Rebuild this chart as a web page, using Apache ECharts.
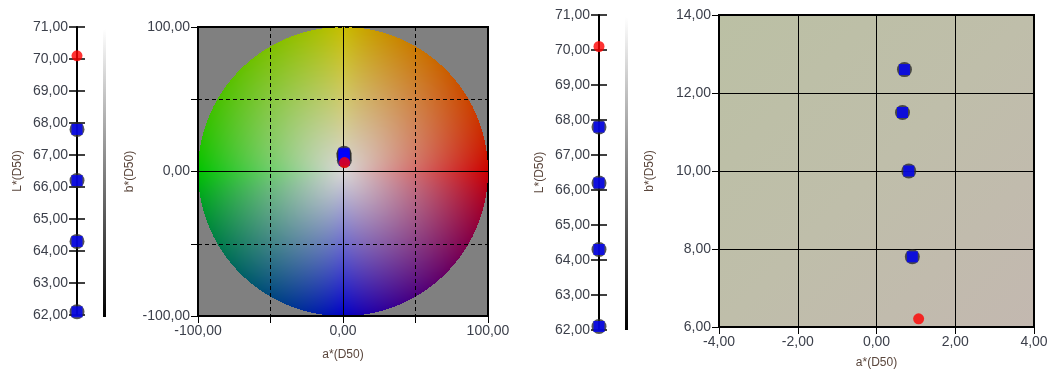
<!DOCTYPE html>
<html>
<head>
<meta charset="utf-8">
<script src="https://cdn.jsdelivr.net/npm/echarts@6/dist/echarts.min.js"></script>
<style>
  html, body { margin: 0; padding: 0; background: #fff; }
  #chart { width: 1051px; height: 374px; }
</style>
</head>
<body>
<div id="chart"></div>
<script>
// Lab values of the measured samples (blue) and the reference (red)
const lSamples = [67.8, 66.2, 64.3, 62.1];
const aSamples = [0.71, 0.66, 0.82, 0.91];
const bSamples = [12.6, 11.5, 10.0, 7.8];
const lReference = [70.1];
const aReference = [1.07];
const bReference = [6.21];

// axis ranges
const lRange = [62, 71];
const wheelRange = [-100, 100];
const zoomA = [-4, 4];
const zoomB = [6, 14];

const fmt = v => v.toFixed(2).replace('.', ',');
const labelColor = '#3b3f4a';
const nameColor = '#5a463c';
const font = 'Liberation Sans, Arial, sans-serif';

// colour wheel bitmap, drawn into the a*b* grid by a custom series
function makeWheel(w, h) {
  const cv = document.createElement('canvas');
  cv.width = w; cv.height = h;
  const ctx = cv.getContext('2d');
  const img = ctx.createImageData(w, h);
  const C = [216, 214, 214], R = [205, 0, 0], G = [0, 195, 0], Y = [200, 190, 0], B = [0, 0, 200];
  for (let y = 0; y < h; y++) {
    for (let x = 0; x < w; x++) {
      const a = (x + 0.5) / w * 2 - 1;
      const b = 1 - (y + 0.5) / h * 2;
      const r = Math.sqrt(a * a + b * b);
      const i = (y * w + x) * 4;
      if (r > 1) { img.data[i + 3] = 0; continue; }
      const s = Math.abs(a) + Math.abs(b) || 1;
      const ca = Math.abs(a) / s, cb = Math.abs(b) / s;
      const ea = a > 0 ? R : G, eb = b > 0 ? Y : B;
      for (let k = 0; k < 3; k++) {
        const e = ca * ea[k] + cb * eb[k];
        img.data[i + k] = C[k] * (1 - r) + e * r;
      }
      img.data[i + 3] = 255;
    }
  }
  ctx.putImageData(img, 0, 0);
  return cv;
}
const wheel = makeWheel(290, 289);

const chart = echarts.init(document.getElementById('chart'));

const tickLabel = { color: labelColor, fontSize: 14, fontFamily: font };
const nameStyle = { color: nameColor, fontSize: 12, fontFamily: font };
const blackLine = { show: true, onZero: false, lineStyle: { color: '#000', width: 2 } };

function lAxis(gridIndex, gap) {
  return {
    type: 'value', gridIndex, min: lRange[0], max: lRange[1], interval: 1,
    name: 'L*(D50)', nameLocation: 'middle', nameGap: gap, nameTextStyle: nameStyle,
    axisLine: blackLine,
    axisTick: { show: true, length: 8, lineStyle: { color: '#000', width: 1.5 } },
    splitLine: { show: true, lineStyle: { color: '#000', width: 1.5 } },
    axisLabel: { ...tickLabel, margin: 9, formatter: fmt, showMinLabel: true, showMaxLabel: true }
  };
}

function plotAxis(gridIndex, range, interval, name, gap, dashed, labelFn) {
  return {
    type: 'value', gridIndex, min: range[0], max: range[1], interval, z: 3,
    name, nameLocation: 'middle', nameGap: gap, nameTextStyle: nameStyle,
    axisLine: blackLine,
    axisTick: { show: true, length: 7, lineStyle: { color: '#000' } },
    splitLine: { show: true, lineStyle: { color: '#000', width: 1, type: dashed ? [4, 3] : 'solid' } },
    axisLabel: { ...tickLabel, margin: 8, showMinLabel: true, showMaxLabel: true, formatter: labelFn }
  };
}

function markerSeries(xi, yi, xs, ys, refX, refY) {
  const pts = xs.map((x, i) => [x, ys[i]]);
  const ref = refX.map((x, i) => [x, refY[i]]);
  return [
    { type: 'scatter', xAxisIndex: xi, yAxisIndex: yi, z: 5, symbol: 'circle', symbolSize: 15,
      itemStyle: { color: '#2a2a2a' }, data: pts, silent: true },
    { type: 'scatter', xAxisIndex: xi, yAxisIndex: yi, z: 6, symbol: 'rect', symbolSize: 11,
      itemStyle: { color: '#0000ff' }, data: pts, silent: true },
    { type: 'scatter', xAxisIndex: xi, yAxisIndex: yi, z: 7, symbol: 'circle', symbolSize: 11,
      itemStyle: { color: '#ff0000' }, data: ref, silent: true }
  ];
}

const barGradient = {
  type: 'linear', x: 0, y: 0, x2: 0, y2: 1,
  colorStops: [{ offset: 0, color: '#ffffff' }, { offset: 1, color: '#000000' }]
};
const hundreds = v => (v % 100 === 0 ? fmt(v) : '');

chart.setOption({
  animation: false,
  backgroundColor: '#fff',
  grid: [
    { left: 77, top: 27, width: 8, height: 288 },
    { left: 198, top: 27, width: 290, height: 289, show: true, backgroundColor: '#808080',
      borderColor: '#000', borderWidth: 2 },
    { left: 599, top: 15, width: 8, height: 315 },
    { left: 719, top: 15, width: 315, height: 315, show: true, borderColor: '#000', borderWidth: 2,
      backgroundColor: {
        type: 'linear', x: 0, y: 0, x2: 1, y2: 1,
        colorStops: [{ offset: 0, color: '#bbc0a4' }, { offset: 0.5, color: '#bfbeaa' }, { offset: 1, color: '#c3b8b0' }]
      } }
  ],
  xAxis: [
    { type: 'value', gridIndex: 0, min: 0, max: 1, show: false },
    plotAxis(1, wheelRange, 50, 'a*(D50)', 33, true, hundreds),
    { type: 'value', gridIndex: 2, min: 0, max: 1, show: false },
    plotAxis(3, zoomA, 2, 'a*(D50)', 30, false, fmt)
  ],
  yAxis: [
    lAxis(0, 53),
    plotAxis(1, wheelRange, 50, 'b*(D50)', 62, true, hundreds),
    lAxis(2, 53),
    plotAxis(3, zoomB, 2, 'b*(D50)', 63, false, fmt)
  ],
  graphic: [
    { type: 'rect', left: 103, top: 29, shape: { width: 3, height: 288 }, style: { fill: barGradient }, silent: true },
    { type: 'rect', left: 625, top: 17, shape: { width: 3, height: 313 }, style: { fill: barGradient }, silent: true }
  ],
  series: [
    {
      type: 'custom', xAxisIndex: 1, yAxisIndex: 1, z: 1, silent: true,
      data: [[wheelRange[0], wheelRange[1], wheelRange[1], wheelRange[0]]],
      renderItem: (params, api) => {
        const p0 = api.coord([api.value(0), api.value(1)]);
        const p1 = api.coord([api.value(2), api.value(3)]);
        return { type: 'image', style: { image: wheel, x: p0[0], y: p0[1], width: p1[0] - p0[0], height: p1[1] - p0[1] } };
      },
      markLine: {
        z: 3, silent: true, symbol: 'none', label: { show: false },
        lineStyle: { color: '#000', width: 1, type: 'solid' },
        data: [{ xAxis: 0 }, { yAxis: 0 }]
      }
    },
    ...markerSeries(0, 0, lSamples.map(() => 0), lSamples, lReference.map(() => 0), lReference),
    ...markerSeries(1, 1, aSamples, bSamples, aReference, bReference),
    ...markerSeries(2, 2, lSamples.map(() => 0), lSamples, lReference.map(() => 0), lReference),
    ...markerSeries(3, 3, aSamples, bSamples, aReference, bReference)
  ]
});
</script>
</body>
</html>
